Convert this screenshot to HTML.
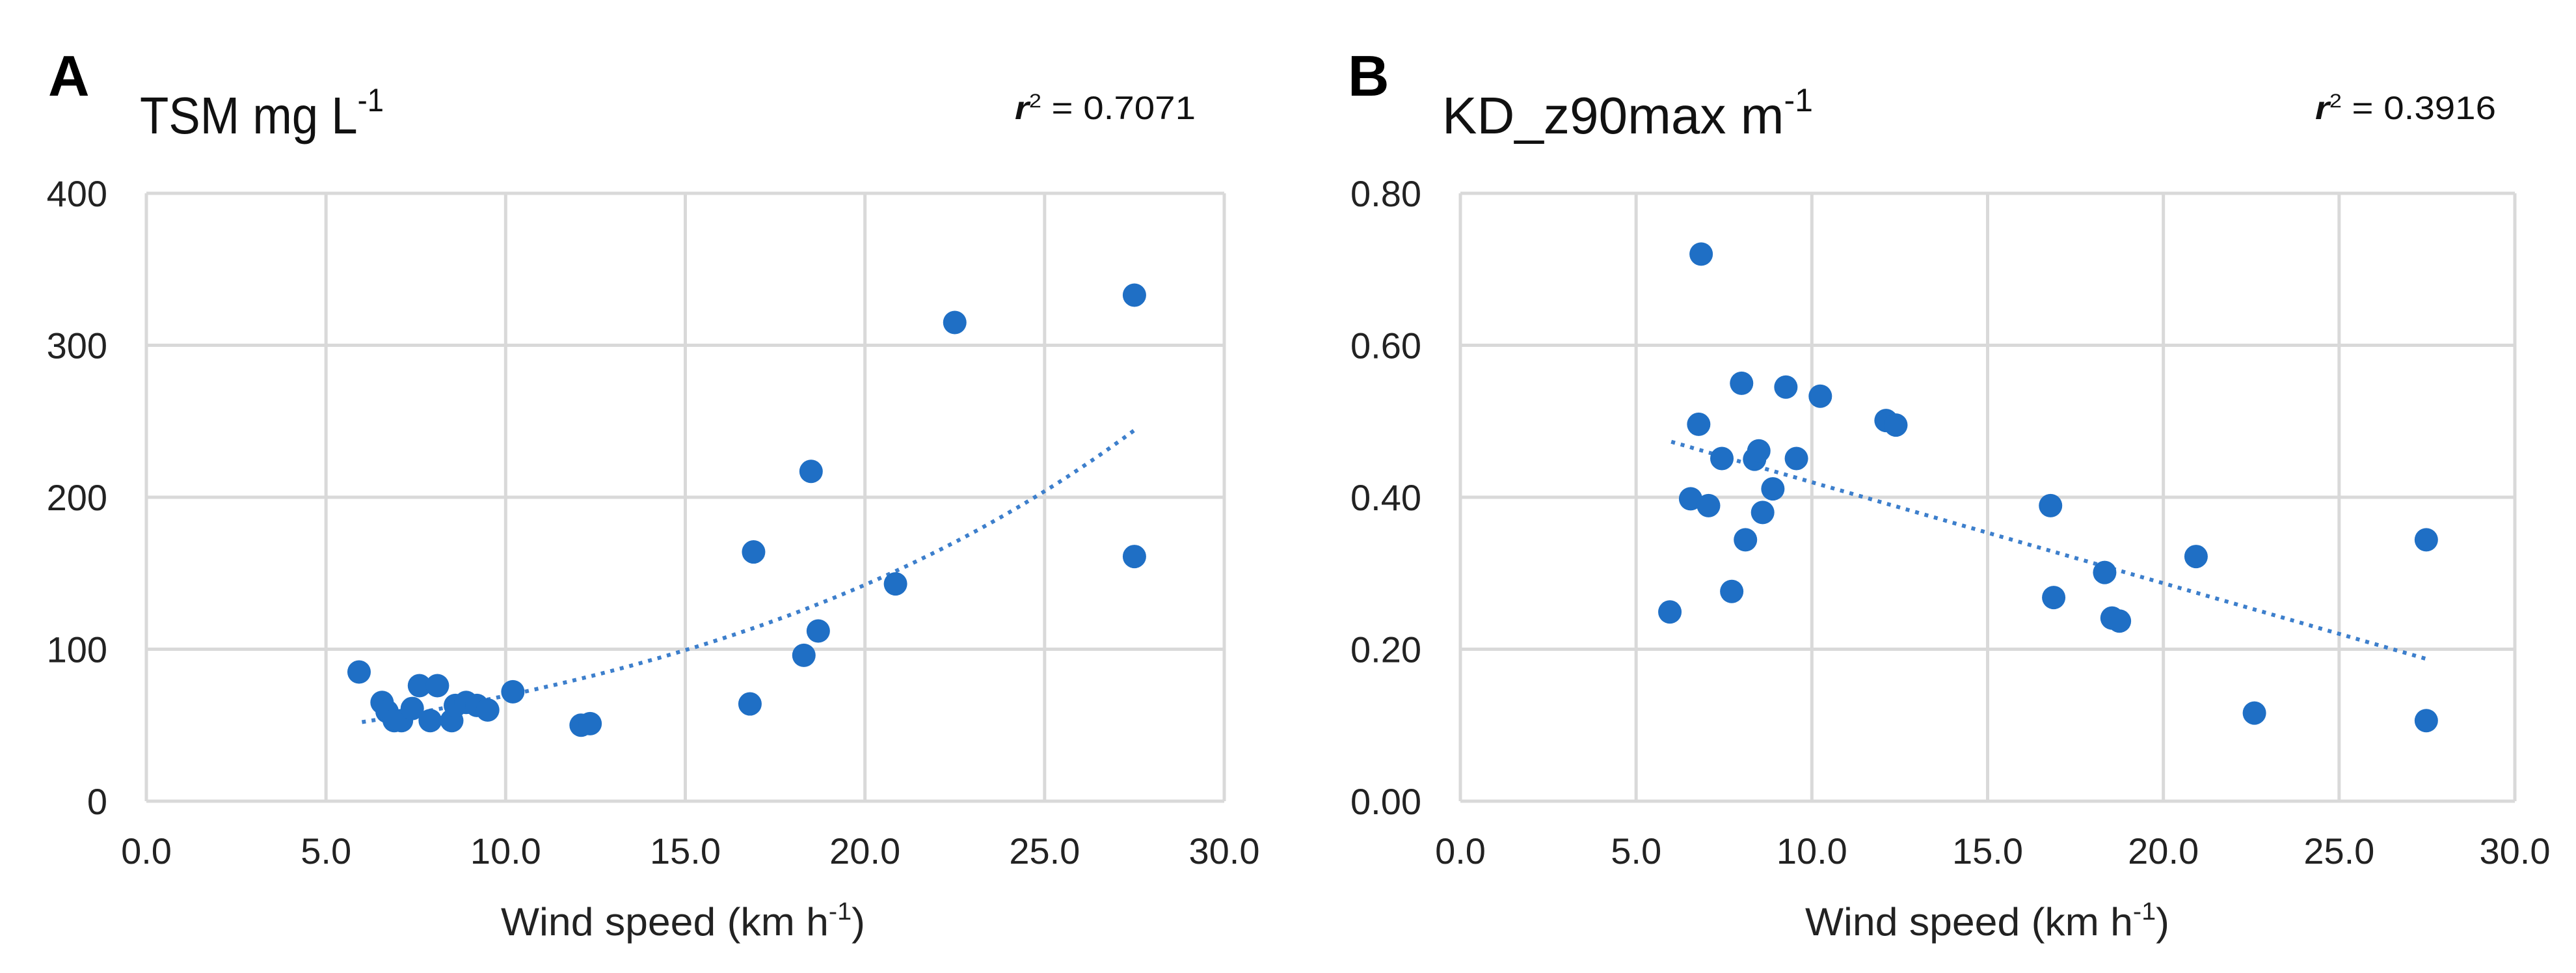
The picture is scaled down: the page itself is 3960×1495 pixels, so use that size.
<!DOCTYPE html>
<html><head><meta charset="utf-8"><style>
html,body{margin:0;padding:0;background:#fff;}
svg{display:block;font-family:"Liberation Sans",sans-serif;}
</style></head><body>
<svg id="chart" width="3960" height="1495" viewBox="0 0 3960 1495" xmlns="http://www.w3.org/2000/svg">
<rect width="3960" height="1495" fill="#fff"/>
<text x="74" y="147" font-size="88" font-weight="bold" fill="#000">A</text>
<text x="215" y="205" font-size="80" fill="#111" textLength="375" lengthAdjust="spacingAndGlyphs">TSM mg L<tspan font-size="50" dy="-34">-1</tspan></text>
<text x="1560" y="183" font-size="50" fill="#111" textLength="278" lengthAdjust="spacingAndGlyphs"><tspan font-style="italic" font-weight="bold">r</tspan><tspan font-size="30" dy="-18">2</tspan><tspan dy="18"> = 0.7071</tspan></text>
<text x="2072" y="147" font-size="88" font-weight="bold" fill="#000">B</text>
<text x="2217" y="205" font-size="80" fill="#111" textLength="570" lengthAdjust="spacingAndGlyphs">KD_z90max m<tspan font-size="50" dy="-34">-1</tspan></text>
<text x="3559" y="183" font-size="50" fill="#111" textLength="278" lengthAdjust="spacingAndGlyphs"><tspan font-style="italic" font-weight="bold">r</tspan><tspan font-size="30" dy="-18">2</tspan><tspan dy="18"> = 0.3916</tspan></text>
</svg>
<script>
// Panel A data (TSM)
const xA = [5.92,6.56,6.7,6.9,7.1,7.4,7.6,8.1,7.9,8.5,8.6,8.9,9.2,9.5,10.2,12.1,12.35,16.8,16.9,18.3,18.5,18.7,20.85,22.5,27.5,27.5];
const yA = [85,65,59,53,53,61,76,76,53,53,63,65,63,60,72,50,51,64,164,96,217,112,143,315,333,161];
// Panel B data (KD_z90max)
const xB = [6.85,5.96,6.55,6.78,7.06,7.44,7.72,8.0,8.11,8.37,8.49,8.6,8.89,9.26,9.56,10.24,12.11,12.39,16.79,16.88,18.33,18.54,18.75,20.93,22.59,27.48,27.48];
const yB = [0.72,0.249,0.398,0.496,0.389,0.451,0.276,0.55,0.344,0.45,0.461,0.38,0.411,0.545,0.451,0.533,0.501,0.495,0.389,0.268,0.301,0.241,0.237,0.322,0.116,0.344,0.106];
const xTicks = ["0.0","5.0","10.0","15.0","20.0","25.0","30.0"];
const yTicksA = ["0","100","200","300","400"];
const yTicksB = ["0.00","0.20","0.40","0.60","0.80"];
const trendA = [33.8, 0.0719]; // y = a*exp(b*x)
const trendB = [0.473, 0.187]; // values at x=6 and x=27.5

const NS = "http://www.w3.org/2000/svg";
const svg = document.getElementById('chart');
function mk(tag, attrs, parent){const e=document.createElementNS(NS,tag);for(const k in attrs)e.setAttribute(k,attrs[k]);(parent||svg).appendChild(e);return e;}

function panel(prefix, L, R, T, B, ymax, yTicks, xs, ys, trendFn, titleX){
  const g = mk('g',{});
  
  
  const sx = v => L + (v/30)*(R-L);
  const sy = v => B - (v/ymax)*(B-T);
  // grid
  for(let i=0;i<xTicks.length;i++){
    const x = sx(parseFloat(xTicks[i]));
    const l = mk('line',{x1:x,x2:x,y1:T,y2:B,stroke:'#d9d9d9','stroke-width':5},g);
    
    
    const t = mk('text',{x:x,y:1327,'text-anchor':'middle','font-size':56,fill:'#222'},g);
    
    
    t.textContent = xTicks[i];
  }
  for(let i=0;i<yTicks.length;i++){
    const v = parseFloat(yTicks[i]);
    const y = sy(v);
    const l = mk('line',{x1:L,x2:R,y1:y,y2:y,stroke:'#d9d9d9','stroke-width':5},g);
    
    
    const t = mk('text',{x:L-60,y:y+20,'text-anchor':'end','font-size':56,fill:'#222'},g);
    
    
    t.textContent = yTicks[i];
  }
  // trendline
  let d='';
  for(let k=0;k<=60;k++){const xv=6+k*(21.5/60);d+=(k?'L':'M')+sx(xv).toFixed(1)+','+sy(trendFn(xv)).toFixed(1);}
  const tr = mk('path',{d:d,fill:'none',stroke:'#3d7fcc','stroke-width':6,'stroke-dasharray':'6 9'},g);
  
  
  for(let i=0;i<xs.length;i++){
    const c = mk('circle',{cx:sx(xs[i]),cy:sy(ys[i]),r:18,fill:'#1f6fc5'},g);
    
    
  }
  const at = mk('text',{x:titleX,y:1437,'font-size':60,fill:'#222',textLength:560,lengthAdjust:'spacingAndGlyphs'},g);
  
  
  at.innerHTML = 'Wind speed (km h<tspan font-size="38" dy="-24">-1</tspan><tspan dy="24">)</tspan>';
}
panel('panel-a',225,1882,297,1231,400,yTicksA,xA,yA,x=>trendA[0]*Math.exp(trendA[1]*x),770);
panel('panel-b',2245,3866,297,1231,0.8,yTicksB,xB,yB,x=>trendB[0]+(trendB[1]-trendB[0])*(x-6)/21.5,2775);
</script>
</body></html>
